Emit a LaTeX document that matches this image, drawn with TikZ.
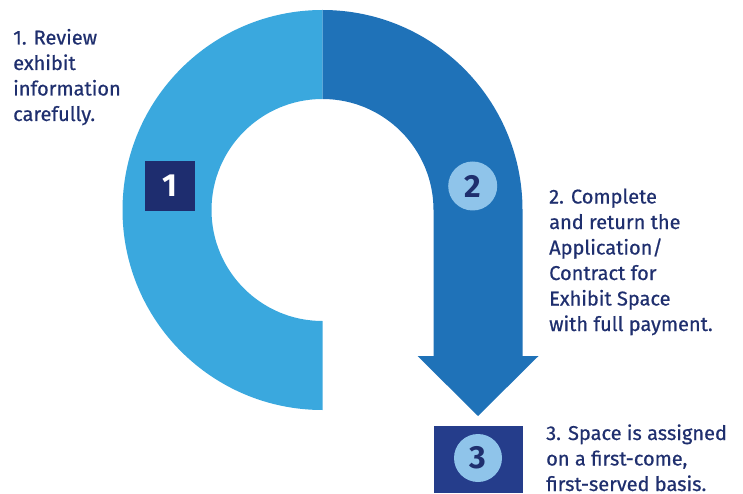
\documentclass[tikz,border=0pt]{standalone}
\usepackage{fontspec}
\newfontfamily\labelfont{Fira Sans}[FakeBold=0.6]
\newfontfamily\numfont{Fira Sans Bold}
\definecolor{ringlight}{HTML}{3AA8DE}
\definecolor{ringdark}{HTML}{1F72B8}
\definecolor{navy}{HTML}{1E2D6F}
\definecolor{navymid}{HTML}{253D8B}
\definecolor{badgelight}{HTML}{8FC4EA}
\definecolor{textnavy}{HTML}{1F2F6E}
\begin{document}
\begin{tikzpicture}[x=1pt,y=1pt,
    steptext/.style={anchor=base west,align=left,inner sep=0,text=textnavy,
        font=\labelfont\fontsize{20}{25.5}\selectfont},
    numbox/.style={fill=navy,minimum size=50pt,inner sep=0,text=white,
        font=\numfont\fontsize{32}{32}\selectfont},
    numdisc/.style={circle,fill=badgelight,minimum size=49pt,inner sep=0,text=textnavy,
        font=\numfont\fontsize{32}{32}\selectfont}]
    \useasboundingbox (0,0) rectangle (743,493);
    % ring, left half
    \fill[ringlight] (322.5,483) arc (90:270:200) -- (322.5,172) arc (270:90:111) -- cycle;
    % ring, right quarter running into the arrow
    \fill[ringdark] (322.5,483) arc (90:0:200) -- (522.5,137) -- (538.5,137) -- (478,77)
        -- (417.5,137) -- (433.5,137) -- (433.5,283) arc (0:90:111) -- cycle;
    % step 3 box
    \fill[navymid] (434,0) rectangle (523,67);
    \node[numbox] (one) at (170,307) {1};
    \node[numdisc] (two) at (472.7,307) {2};
    \node[numdisc,minimum size=48pt] (three) at (478,35) {3};
    % base anchor sits on the last line
    \node[steptext] (review) at (13,372) {1. Review\\exhibit\\information\\carefully.};
    \node[steptext] (complete) at (549,162) {2. Complete\\and return the\\Application/\\Contract for\\Exhibit Space\\with full payment.};
    \node[steptext] (assign) at (546,2) {3. Space is assigned\\on a first-come,\\first-served basis.};
\end{tikzpicture}
\end{document}
